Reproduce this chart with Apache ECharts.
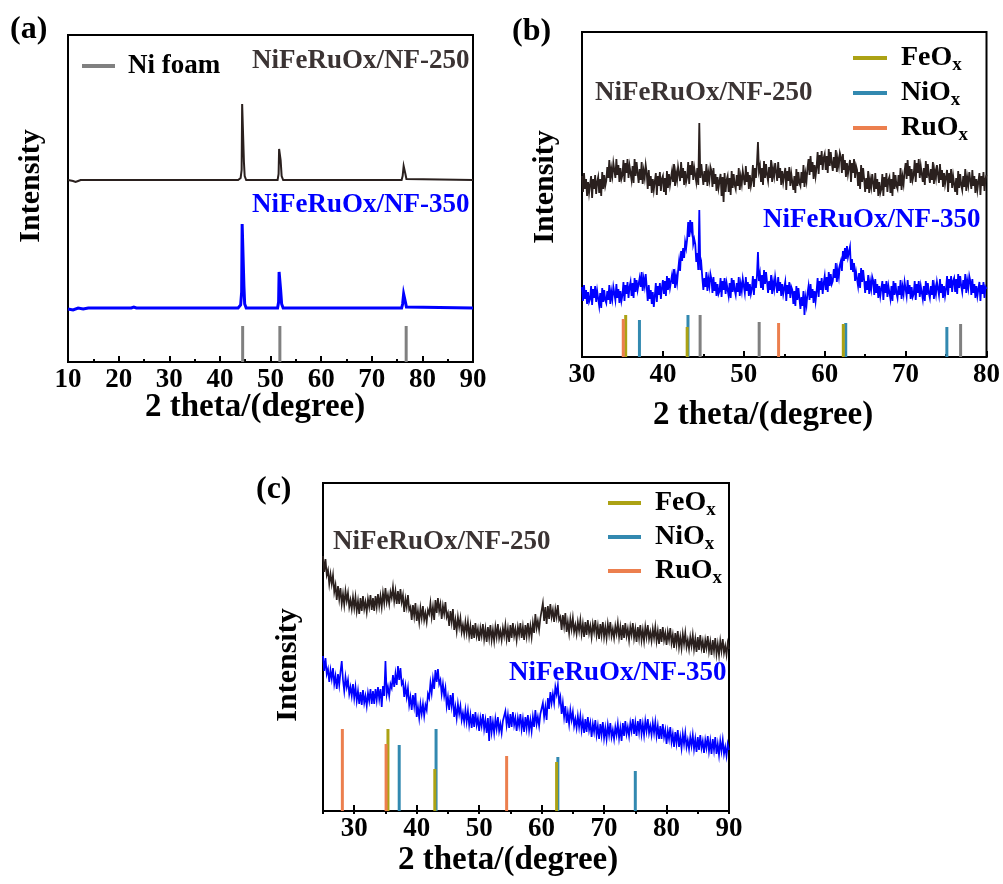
<!DOCTYPE html>
<html><head><meta charset="utf-8">
<script src="https://cdn.jsdelivr.net/npm/echarts@6/dist/echarts.min.js"></script>
<style>html,body{margin:0;padding:0;background:#fff}#c{width:1003px;height:884px}</style>
</head><body><div id="c"></div>
<script>
// ---------- Panel (a): Ni foam range 10-90 ----------
const a250X = [10,11,11.5,12,12.5,43.6,44.1,44.3,44.4,44.6,44.75,44.9,45.2,51.4,51.6,51.7,51.9,52.0,52.2,52.5,75.9,76.1,76.3,76.5,76.65,76.85,77.1,90];
const a250Y = [182,181,180,181,182,182,184,192,258,256,200,186,182,182,188,213,211,202,186,182,182,186,196,194,188,183,182,182];
const a350X = [10,11,12,13,14,22.5,23,23.5,43.6,44.1,44.3,44.4,44.6,44.75,44.9,45.2,51.4,51.6,51.7,51.9,52.0,52.2,52.5,75.9,76.1,76.3,76.5,76.65,76.85,77.1,90];
const a350Y = [53,52,54,53,54,54,55,54,54,57,70,138,136,76,58,54,54,60,90,88,72,58,54,54,58,68,66,60,55,54,54];
const niFoamA = [44.5, 51.85, 76.8];
const niFoamAH = [36, 36, 36];

// ---------- Panel (b): 30-80, step 0.125 ----------
const bStart = 30, bStep = 0.125;
const b250 = [
181,165,184,168,178,161,175,164, 166,181,159,178,168,182,163,175, 180,164,178,161,185,168,182,171, 176,190,179,197,175,188,181,194,
195,179,198,182,192,175,189,178, 182,197,175,194,184,198,179,191, 193,177,191,174,198,181,195,184, 174,188,177,195,173,186,179,192,
184,168,187,171,181,164,178,167, 169,184,162,181,171,185,166,178, 181,165,179,162,186,169,183,172, 172,186,175,193,171,184,177,190,
192,176,195,179,189,172,186,175, 180,195,173,192,182,196,177,189, 191,175,189,172,234,179,193,182, 172,186,175,193,171,184,177,190,
186,170,189,173,183,166,180,169, 168,183,161,180,155,184,165,177, 181,165,179,162,186,169,183,172, 168,182,171,189,167,180,173,186,
188,172,191,175,185,168,182,171, 177,192,170,189,179,193,215,186, 191,175,189,172,196,179,193,182, 176,190,179,197,175,188,181,194,
192,176,195,179,189,172,186,175, 174,189,167,186,176,190,171,183, 183,167,181,164,188,171,185,174, 171,185,174,192,170,183,176,189,
198,182,201,185,195,178,192,181, 190,205,183,202,192,206,187,199, 203,187,201,184,208,191,205,194, 186,200,189,207,185,198,191,204,
200,184,203,187,197,180,194,183, 182,197,175,194,184,198,179,191, 187,171,185,168,192,175,189,178, 165,179,168,186,164,177,170,183,
181,165,184,168,178,161,175,164, 168,183,161,180,170,184,165,177, 180,164,178,161,185,168,182,171, 168,182,171,189,167,180,173,186,
194,178,197,181,191,174,188,177, 182,197,175,194,184,198,179,191, 191,175,189,172,196,179,193,182, 174,188,177,195,173,186,179,192,
190,174,193,177,187,170,184,173, 172,187,165,184,174,188,169,181, 181,165,179,162,186,169,183,172, 167,181,170,188,166,179,172,185,
184,168,187,171,181,164,178,167, 169,184,162,181,171,185,166,178, 182];
const b350 = [
70,56,72,58,67,53,65,55, 58,71,52,68,59,71,55,66, 65,51,64,49,69,55,67,57, 54,66,57,72,53,65,58,70,
71,57,73,59,68,54,66,56, 62,75,56,72,63,75,59,70, 75,61,74,59,79,65,77,67, 67,79,70,85,66,78,71,83,
70,56,72,58,67,53,65,50, 61,74,55,71,62,74,58,69, 77,63,76,61,81,67,79,69, 70,82,73,88,69,81,74,86,
96,86,106,96,109,99,115,109, 118,135,120,137,127,135,113,118, 113,95,104,87,147,87,93,79, 67,79,70,85,66,78,71,83,
78,64,80,66,75,61,73,63, 66,79,60,76,67,79,63,74, 75,61,74,59,79,65,77,67, 62,74,65,80,61,73,66,78,
78,64,80,66,75,61,73,63, 68,81,62,78,69,81,105,76, 83,69,82,67,87,73,85,75, 64,76,67,82,63,75,68,80,
78,64,80,66,75,61,73,63, 62,75,56,72,63,75,59,70, 67,53,66,51,71,57,69,59, 48,60,51,66,42,59,52,64,
71,57,73,59,68,54,66,56, 66,79,60,76,67,79,63,74, 81,67,80,65,85,71,83,73, 76,88,79,94,75,87,80,92,
96,86,106,96,109,98,111,100, 101,110,87,98,85,94,76,85, 85,71,84,69,89,75,87,77, 64,76,67,82,63,75,68,80,
76,62,78,64,73,59,71,61, 63,76,57,73,64,76,60,71, 72,58,71,56,76,62,74,64, 59,71,62,77,58,70,63,75,
75,61,77,63,72,58,70,60, 63,76,57,73,64,76,60,71, 72,58,71,56,76,62,74,64, 59,71,62,77,58,70,63,75,
76,62,78,64,73,59,71,61, 68,81,62,78,69,81,65,76, 79,65,78,63,83,69,81,71, 65,77,68,83,64,76,69,81,
76,62,78,64,73,59,71,61, 62,75,56,72,63,75,59,70, 68];
const feoxB = [35.4, 43.0, 62.3],       feoxBH = [42, 30, 33];
const nioxB = [37.1, 43.1, 62.6, 75.1], nioxBH = [37, 42, 34, 30];
const ruoxB = [35.1, 54.3],             ruoxBH = [38, 34];
const niB   = [44.6, 51.9, 76.8],       niBH   = [42, 35, 33];

// ---------- Panel (c): 25-90, step 0.2 ----------
const cStart = 25, cStep = 0.2;
const c250 = [
255,239,252,236,241, 227,237,227,236,219, 226,211,225,212,223, 207,217,206,220,210, 218,204,211,202,214,
203,214,200,210,197, 213,200,215,202,209, 199,212,204,216,201, 213,200,215,204,217, 205,215,204,218,208,
223,209,216,207,219, 213,224,210,220,207, 220,207,222,209,216, 199,212,204,216,201, 204,191,206,195,208,
190,200,189,203,193, 205,191,198,189,201, 197,208,194,204,191, 211,198,213,200,207, 192,205,197,209,194,
198,185,200,189,202, 181,191,180,194,184, 193,179,186,177,189, 178,189,175,185,172, 186,173,188,175,182,
170,183,175,187,172, 182,169,184,173,186, 171,181,170,184,174, 187,173,180,171,183, 175,186,172,182,169,
186,173,188,175,182, 171,184,176,188,173, 184,171,186,175,188, 175,185,174,188,178, 197,183,190,181,193,
193,208,190,204,187, 205,192,207,194,201, 189,202,194,206,191, 194,181,196,185,198, 179,189,178,192,182,
193,179,186,177,189, 180,191,177,187,174, 189,176,191,178,185, 174,187,179,191,176, 185,172,187,176,189,
174,184,173,187,177, 189,175,182,173,185, 177,188,174,184,171, 186,173,188,175,182, 171,184,176,188,173,
182,169,184,173,186, 171,181,170,184,174, 186,172,179,170,182, 173,184,170,180,167, 182,169,184,171,178,
166,179,171,183,168, 176,163,178,167,180, 164,174,163,177,167, 178,164,171,162,174, 165,176,162,172,159,
174,161,176,163,170, 158,171,163,175,160, 169,156,171,160,173, 157,167,156,170,160, 172,158,165,156,168,
162];
const c350 = [
155,140,153,137,142, 129,141,132,143,127, 135,122,137,126,139, 150,131,120,134,124, 131,117,124,115,127,
113,124,110,120,107, 119,106,121,108,115, 105,118,110,122,107, 120,107,122,111,124, 112,122,104,125,115,
150,117,124,115,127, 123,136,124,137,126, 145,131,143,127,130, 114,125,114,123,106, 114,101,116,105,118,
94,104,93,107,97, 107,95,106,101,117, 113,128,118,132,122, 141,129,142,127,131, 117,127,115,123,105,
114,101,116,105,118, 94,104,93,107,97, 105,91,98,89,101, 89,100,86,96,83, 97,84,99,86,93,
80,93,85,97,82, 91,78,93,70,95, 79,89,78,92,82, 94,80,87,78,90, 89,100,86,96,83,
97,84,99,86,93, 80,93,85,97,82, 92,79,94,83,96, 81,91,80,94,84, 101,87,94,85,97,
97,108,94,104,91, 113,102,119,108,117, 108,124,117,126,108, 114,97,108,94,105, 88,98,87,101,91,
99,85,92,83,95, 84,95,81,91,78, 92,79,94,81,88, 74,87,79,91,76, 85,72,87,76,89,
73,83,72,86,76, 88,74,81,72,84, 76,87,73,83,70, 88,75,90,77,84, 75,88,80,92,77,
88,75,90,79,92, 77,87,76,90,80, 92,78,85,76,88, 78,89,75,85,72, 85,72,87,74,81,
67,80,72,84,69, 77,64,79,68,81, 64,74,63,77,67, 78,64,71,62,74, 65,76,62,72,59,
74,61,76,63,70, 58,71,63,75,60, 70,57,72,61,74, 57,67,56,70,60, 71,57,64,55,67,
61];
const ruoxC = [28.1, 35.1, 54.4],       ruoxCH = [82, 67, 55];
const feoxC = [35.4, 42.9, 62.4],       feoxCH = [82, 42, 49];
const nioxC = [37.2, 43.1, 62.6, 75.0], nioxCH = [66, 82, 54, 40];

const xTicksC = [30, 40, 50, 60, 70, 80, 90];

// ---------- helpers ----------
const FONT = '"Liberation Serif", "Times New Roman", serif';
const COL = {k:'#2a201e', blue:'#0000ff', fe:'#aca214', ni:'#3289b0', ru:'#ec7f4e', gray:'#808080', lbl:'#3b3333'};
const pairs = (xs, ys) => xs.map((x, i) => [x, ys[i]]);
const stepped = (s, st, ys) => ys.map((y, i) => [+(s + i * st).toFixed(3), y]);
const sticks = (xs, hs) => { const d = []; xs.forEach((x, i) => { d.push([x, 0], [x, hs[i]], [x, '-']); }); return d; };

function lineS(name, data, color, width, xi, yi, z) {
  return {type:'line', name, data, xAxisIndex:xi, yAxisIndex:yi, showSymbol:false, symbol:'none',
    connectNulls:false, silent:true, animation:false, z: z || 2, color,
    lineStyle:{color, width, join:'miter'}};
}
function xAxisBase(gi, min, max) {
  return {type:'value', gridIndex:gi, min, max, interval:10,
    axisLine:{show:true, onZero:false, lineStyle:{color:'#000', width:2}},
    axisTick:{show:true, inside:true, length:6, lineStyle:{color:'#000', width:2}},
    minorTick:{show:true, splitNumber:2, length:3, lineStyle:{color:'#000', width:2}},
    splitLine:{show:false}, minorSplitLine:{show:false},
    axisLabel:{fontSize:27, fontWeight:'bold', fontFamily:FONT, color:'#000', margin:5}};
}
function txt(x, y, s, size, color, rot) {
  return {type:'text', x, y, rotation: rot || 0, silent:true,
    style:{text:s, font:'bold ' + size + 'px ' + FONT, fill:color,
      textAlign: rot ? 'center' : 'left', textVerticalAlign:'middle'}};
}
const richLegend = {
  formatter: n => '{m|' + n.slice(0, -1) + '}{s|x}',
  textStyle:{rich:{
    m:{fontSize:28, fontWeight:'bold', fontFamily:FONT, color:'#000', lineHeight:34, padding:[0,0,0,9]},
    s:{fontSize:19, fontWeight:'bold', fontFamily:FONT, color:'#000', lineHeight:19, verticalAlign:'bottom'}
  }}
};

const chart = echarts.init(document.getElementById('c'), null, {renderer:'canvas'});
chart.setOption({
  animation:false,
  backgroundColor:'#fff',
  grid:[
    {left:68, top:35, width:405, height:327, show:true, borderColor:'#000', borderWidth:2},
    {left:582, top:32, width:405, height:325, show:true, borderColor:'#000', borderWidth:2},
    {left:323, top:483, width:406, height:328, show:true, borderColor:'#000', borderWidth:2}
  ],
  xAxis:[
    xAxisBase(0, 10, 90),
    xAxisBase(1, 30, 80),
    Object.assign(xAxisBase(2, 25, 90), {interval:null, minorTick:{show:false},
      axisTick:{show:true, inside:true, length:6, customValues:xTicksC, lineStyle:{color:'#000', width:2}},
      axisLabel:{fontSize:27, fontWeight:'bold', fontFamily:FONT, color:'#000', margin:5, customValues:xTicksC}}),
    {type:'value', gridIndex:2, min:25, max:90, interval:5, axisLine:{show:false},
      axisTick:{show:true, inside:true, length:3, lineStyle:{color:'#000', width:2}},
      axisLabel:{show:false}, splitLine:{show:false}}
  ],
  yAxis:[
    {type:'value', gridIndex:0, min:0, max:327, show:false},
    {type:'value', gridIndex:1, min:0, max:325, show:false},
    {type:'value', gridIndex:2, min:0, max:328, show:false}
  ],
  legend:[
    {data:['Ni foam'], left:82, top:51, orient:'vertical', padding:0, itemWidth:33, itemHeight:4, icon:'rect',
      selectedMode:false, textStyle:{fontSize:27, fontWeight:'bold', fontFamily:FONT, color:'#000', lineHeight:30, padding:[0,0,0,8]}},
    Object.assign({data:['FeOx','NiOx','RuOx'], left:853, top:44, orient:'vertical', padding:0, itemGap:4,
      itemWidth:34, itemHeight:4, icon:'rect', selectedMode:false}, richLegend),
    Object.assign({data:['FeOx','NiOx','RuOx'], left:608, top:489, orient:'vertical', padding:0, itemGap:3,
      itemWidth:33, itemHeight:4, icon:'rect', selectedMode:false}, richLegend)
  ],
  series:[
    // (a)
    lineS('NiFeRuOx/NF-250 (a)', pairs(a250X, a250Y), COL.k, 2, 0, 0),
    lineS('NiFeRuOx/NF-350 (a)', pairs(a350X, a350Y), COL.blue, 3, 0, 0),
    lineS('Ni foam', sticks(niFoamA, niFoamAH), COL.gray, 3, 0, 0),
    // (b)
    lineS('NiFeRuOx/NF-250 (b)', stepped(bStart, bStep, b250), COL.k, 1.8, 1, 1),
    lineS('NiFeRuOx/NF-350 (b)', stepped(bStart, bStep, b350), COL.blue, 1.8, 1, 1),
    lineS('Ni (b)', sticks(niB, niBH), COL.gray, 3, 1, 1),
    lineS('NiOx', sticks(nioxB, nioxBH), COL.ni, 3, 1, 1, 3),
    lineS('FeOx', sticks(feoxB, feoxBH), COL.fe, 3, 1, 1, 4),
    lineS('RuOx', sticks(ruoxB, ruoxBH), COL.ru, 3, 1, 1, 5),
    // (c)
    lineS('NiFeRuOx/NF-250 (c)', stepped(cStart, cStep, c250), COL.k, 1.7, 2, 2),
    lineS('NiFeRuOx/NF-350 (c)', stepped(cStart, cStep, c350), COL.blue, 1.7, 2, 2),
    lineS('NiOx', sticks(nioxC, nioxCH), COL.ni, 3, 2, 2, 3),
    lineS('FeOx', sticks(feoxC, feoxCH), COL.fe, 3, 2, 2, 4),
    lineS('RuOx', sticks(ruoxC, ruoxCH), COL.ru, 3, 2, 2, 5)
  ],
  graphic:[
    txt(10, 30, '(a)', 32, '#000'),
    txt(31, 186, 'Intensity', 30, '#000', Math.PI / 2),
    txt(145, 407, '2 theta/(degree)', 33, '#000'),
    txt(252, 61, 'NiFeRuOx/NF-250', 27, COL.lbl),
    txt(252, 205, 'NiFeRuOx/NF-350', 27, COL.blue),
    txt(512, 32, '(b)', 32, '#000'),
    txt(545, 187, 'Intensity', 30, '#000', Math.PI / 2),
    txt(653, 415, '2 theta/(degree)', 33, '#000'),
    txt(595, 93, 'NiFeRuOx/NF-250', 27, COL.lbl),
    txt(763, 220, 'NiFeRuOx/NF-350', 27, COL.blue),
    txt(256, 490, '(c)', 32, '#000'),
    txt(288, 665, 'Intensity', 30, '#000', Math.PI / 2),
    txt(398, 860, '2 theta/(degree)', 33, '#000'),
    txt(333, 542, 'NiFeRuOx/NF-250', 27, COL.lbl),
    txt(509, 673, 'NiFeRuOx/NF-350', 27, COL.blue)
  ]
});
</script></body></html>
